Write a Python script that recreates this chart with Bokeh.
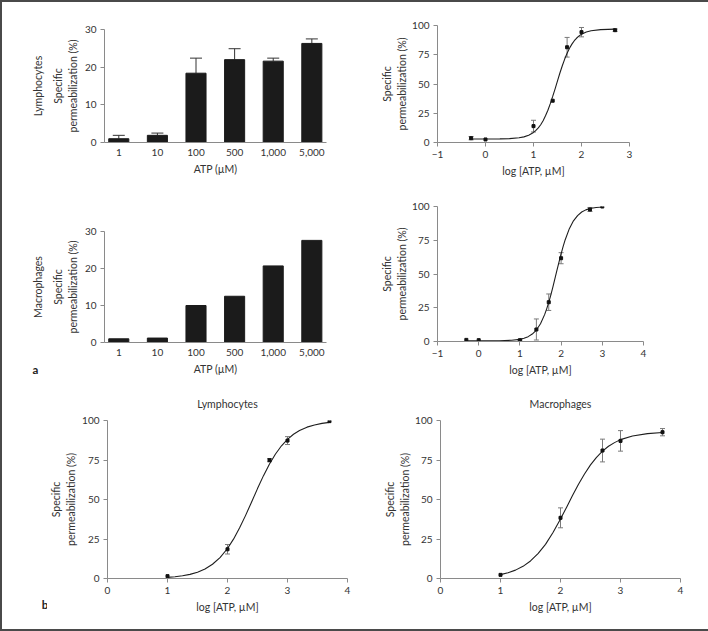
import math
from bokeh.plotting import figure
from bokeh.models import Range1d, FixedTicker, Whisker, TeeHead, ColumnDataSource, Title
from bokeh.layouts import row, column
from bokeh.core.properties import value
from bokeh.embed import file_html
from bokeh.resources import INLINE

FONT = "Lato"
TXT = "#333333"
AXC = "#8a8a8a"

# ---------------- data ----------------
conc_labels = ["1", "10", "100", "500", "1,000", "5,000"]
conc_pos = [0, 1, 2, 3, 4, 5]
lym_bar = [1.0, 1.9, 18.4, 22.0, 21.6, 26.3]
lym_bar_err = [0.9, 0.6, 4.0, 2.9, 0.8, 1.2]
mac_bar = [1.0, 1.2, 10.0, 12.5, 20.7, 27.6]

# a, right: lymphocytes, log [ATP]
lym_a_x = [-0.3, 0.0, 1.0, 1.4, 1.7, 2.0, 2.7]
lym_a_y = [3.7, 2.6, 14.0, 35.7, 81.4, 94.3, 96.0]
lym_a_err = [1.4, 0.0, 5.0, 0.0, 8.4, 4.0, 1.0]
lym_a_fit_x = [-0.3, 0.0, 0.3, 0.5, 0.7, 0.8, 0.9, 1.0, 1.05, 1.1, 1.15, 1.2, 1.25, 1.3, 1.35,
               1.4, 1.45, 1.5, 1.55, 1.6, 1.65, 1.7, 1.75, 1.8, 1.85, 1.9, 1.95, 2.0, 2.1,
               2.2, 2.4, 2.7]
lym_a_fit_y = [3.0, 3.0, 3.1, 3.3, 4.0, 4.8, 6.2, 8.6, 10.3, 12.5, 15.2, 18.6, 22.8, 27.6, 33.2,
               39.4, 45.9, 52.7, 59.4, 65.6, 71.3, 76.3, 80.6, 84.1, 87.0, 89.3, 91.1, 92.5, 94.4,
               95.5, 96.5, 96.9]

# a, right: macrophages, log [ATP]
mac_a_x = [-0.3, 0.0, 1.0, 1.4, 1.7, 2.0, 2.7, 3.0]
mac_a_y = [1.2, 1.0, 1.0, 8.9, 29.1, 61.7, 97.8, 100.0]
mac_a_err = [0.0, 0.0, 0.5, 7.8, 6.1, 4.1, 1.5, 0.0]
mac_a_fit_x = [-0.3, 0.0, 0.5, 0.8, 1.0, 1.1, 1.2, 1.3, 1.4, 1.5, 1.6, 1.65, 1.7, 1.75, 1.8,
               1.85, 1.9, 1.95, 2.0, 2.05, 2.1, 2.2, 2.3, 2.4, 2.5, 2.6, 2.7, 2.85, 3.0]
mac_a_fit_y = [0.5, 0.5, 0.6, 0.9, 1.6, 2.4, 3.6, 5.5, 8.5, 13.2, 19.9, 24.2, 29.0, 34.4, 40.3,
               46.5, 52.8, 59.0, 64.9, 70.4, 75.4, 83.6, 89.4, 93.3, 95.9, 97.5, 98.5, 99.3, 99.7]

# b: lymphocytes
lym_b_x = [1.0, 2.0, 2.7, 3.0, 3.7]
lym_b_y = [1.5, 18.5, 74.9, 87.3, 99.6]
lym_b_err = [0.0, 3.0, 1.0, 2.5, 0.0]
lym_b_fit_x = [1.0, 1.125, 1.25, 1.375, 1.5, 1.625, 1.75, 1.875, 2.0, 2.1, 2.2, 2.3, 2.4, 2.5,
               2.6, 2.7, 2.8, 2.9, 3.0, 3.1, 3.2, 3.325, 3.45, 3.575, 3.7]
lym_b_fit_y = [0.7, 1.1, 1.7, 2.6, 4.0, 6.0, 9.0, 13.2, 19.0, 24.9, 31.9, 39.8, 48.3, 56.9,
               65.1, 72.5, 78.8, 84.0, 88.1, 91.3, 93.7, 95.8, 97.2, 98.2, 98.8]

# b: macrophages
mac_b_x = [1.0, 2.0, 2.7, 3.0, 3.7]
mac_b_y = [2.3, 38.4, 81.0, 87.1, 92.6]
mac_b_err = [0.0, 6.3, 7.2, 6.5, 2.3]
mac_b_fit_x = [1.0, 1.125, 1.25, 1.375, 1.5, 1.625, 1.75, 1.875, 2.0, 2.1, 2.2, 2.3, 2.4, 2.5,
               2.6, 2.7, 2.8, 2.9, 3.0, 3.2, 3.45, 3.7]
mac_b_fit_y = [2.45, 3.6, 5.3, 7.7, 11.1, 15.7, 21.6, 29.1, 37.6, 45.0, 52.5, 59.6, 66.1, 71.9,
               76.7, 80.6, 83.7, 86.0, 87.9, 90.2, 91.7, 92.4]

bar_y_ticks = [0, 10, 20, 30]
pct_ticks = [0, 25, 50, 75, 100]
groups = ["Lymphocytes", "Macrophages"]
panel_letters = ["a", "b"]
Y_LABEL = "Specific\npermeabilization (%)"


def base_fig(fw, fh, bl, br, bt, bb, xr, yr):
    p = figure(frame_width=fw, frame_height=fh,
               min_border_left=bl, min_border_right=br, min_border_top=bt, min_border_bottom=bb,
               x_range=Range1d(*xr), y_range=Range1d(*yr),
               output_backend="svg", toolbar_location=None)
    p.outline_line_color = None
    p.xgrid.visible = False
    p.ygrid.visible = False
    p.background_fill_color = "white"
    p.border_fill_color = "white"
    for ax in p.axis:
        ax.axis_line_color = AXC
        ax.major_tick_line_color = AXC
        ax.minor_tick_line_color = None
        ax.major_tick_in = 0
        ax.major_tick_out = 4
        ax.major_label_standoff = 4
        ax.major_label_text_font = FONT
        ax.major_label_text_font_size = "10px"
        ax.major_label_text_color = TXT
        ax.axis_label_text_font = FONT
        ax.axis_label_text_font_size = "10.5px"
        ax.axis_label_text_font_style = "normal"
        ax.axis_label_text_color = TXT
        ax.axis_label_text_line_height = 1.25
    p.yaxis.axis_label = Y_LABEL
    p.yaxis.axis_label_standoff = 3
    p.xaxis.axis_label_standoff = 4
    return p


def spacer(w, h):
    s = figure(width=w, height=h, min_border=0, title=None,
               x_range=Range1d(0, w), y_range=Range1d(0, h),
               x_axis_type=None, y_axis_type=None,
               output_backend="svg", toolbar_location=None)
    s.outline_line_color = None
    s.background_fill_color = "white"
    s.border_fill_color = "white"
    return s


def bar_fig(values, errs, fh, bt, bb):
    p = base_fig(222, fh, 52, 32, bt, bb, (-0.37, 5.38), (0, 30))
    p.vbar(x=conc_pos, top=values, width=0.52, color="#1b1b1b")
    if errs is not None:
        src = ColumnDataSource(dict(x=conc_pos, lo=values, hi=[v + e for v, e in zip(values, errs)]))
        p.add_layout(Whisker(source=src, base="x", upper="hi", lower="lo",
                             line_color="#333333", line_width=1,
                             upper_head=TeeHead(size=12, line_color="#333333", line_width=1),
                             lower_head=None))
    p.xaxis.ticker = FixedTicker(ticks=conc_pos)
    p.xaxis.major_label_overrides = {i: lab for i, lab in zip(conc_pos, conc_labels)}
    p.xaxis.major_tick_line_color = None
    p.xaxis.major_tick_out = 0
    p.xaxis.major_label_standoff = 6
    p.xaxis.axis_label = "ATP (\u00b5M)"
    p.yaxis.ticker = FixedTicker(ticks=bar_y_ticks)
    return p


def curve_fig(fw, fh, bl, br, bt, bb, xr, xt, xs, ys, errs, fx, fy, cap=5):
    p = base_fig(fw, fh, bl, br, bt, bb, xr, (0, 100))
    p.line(fx, fy, line_color="#1e1e1e", line_width=1.1)
    ex = [x for x, e in zip(xs, errs) if e > 0]
    elo = [y - e for y, e in zip(ys, errs) if e > 0]
    ehi = [y + e for y, e in zip(ys, errs) if e > 0]
    src = ColumnDataSource(dict(x=ex, lo=elo, hi=ehi))
    p.add_layout(Whisker(source=src, base="x", upper="hi", lower="lo",
                         line_color="#7a7a7a", line_width=1,
                         upper_head=TeeHead(size=cap, line_color="#7a7a7a", line_width=1),
                         lower_head=TeeHead(size=cap, line_color="#7a7a7a", line_width=1)))
    p.scatter(xs, ys, marker="square", size=3, color="#111111")
    p.xaxis.ticker = FixedTicker(ticks=xt)
    p.xaxis.major_label_overrides = {float(t): ("\u2212" + str(abs(t)) if t < 0 else str(t)) for t in xt}
    p.xaxis.axis_label = "log [ATP, \u00b5M]"
    p.yaxis.ticker = FixedTicker(ticks=pct_ticks)
    p.yaxis.axis_label_standoff = 1
    return p


# ---- top block (panel a) ----
side_a = spacer(46, 383)
side_a.text(x=[35.5, 35.5], y=[299.5, 98.5], text=groups, angle=math.pi / 2,
            text_font=value(FONT), text_font_size="10.5px", text_color=TXT,
            text_align="center", text_baseline="middle")
side_a.text(x=[33], y=[16], text=[panel_letters[0]], text_font=value(FONT),
            text_font_size="11.5px", text_font_style="bold", text_color="#222222",
            text_align="center", text_baseline="middle")

p1 = bar_fig(lym_bar, lym_bar_err, 113, 27, 48)
p3 = bar_fig(mac_bar, None, 111, 41, 43)
p2 = curve_fig(192, 117, 79, 81, 23, 48, (-1, 3), [-1, 0, 1, 2, 3],
               lym_a_x, lym_a_y, lym_a_err, lym_a_fit_x, lym_a_fit_y)
p4 = curve_fig(206, 135, 79, 67, 16, 44, (-1, 4), [-1, 0, 1, 2, 3, 4],
               mac_a_x, mac_a_y, mac_a_err, mac_a_fit_x, mac_a_fit_y)

# ---- bottom row (panel b) ----
side_b = spacer(45, 244)
side_b.text(x=[42.5], y=[25], text=[panel_letters[1]], text_font=value(FONT),
            text_font_size="11.5px", text_font_style="bold", text_color="#222222",
            text_align="center", text_baseline="middle")

p5 = curve_fig(240, 158, 53, 14, 35, 51, (0, 4), [0, 1, 2, 3, 4],
               lym_b_x, lym_b_y, lym_b_err, lym_b_fit_x, lym_b_fit_y)
p5.yaxis.major_label_standoff = 4
p5.yaxis.axis_label_standoff = 2
p5.title = Title(text=groups[0], align="center", text_font=FONT, text_font_size="10.5px",
                 text_font_style="normal", text_color=TXT, standoff=21)
p6 = curve_fig(240, 158, 79, 33, 35, 51, (0, 4), [0, 1, 2, 3, 4],
               mac_b_x, mac_b_y, mac_b_err, mac_b_fit_x, mac_b_fit_y)
p6.title = Title(text=groups[1], align="center", text_font=FONT, text_font_size="10.5px",
                 text_font_style="normal", text_color=TXT, standoff=21)

top = row(side_a, column(p1, p3, spacing=0), column(p2, p4, spacing=0), spacing=0)
bottom = row(side_b, row(p5, p6, spacing=0), spacing=0)
layout = column(top, bottom, spacing=0, styles={"border": "2px solid #4a4a4a"})

open("out.html", "w").write(file_html(layout, INLINE))
